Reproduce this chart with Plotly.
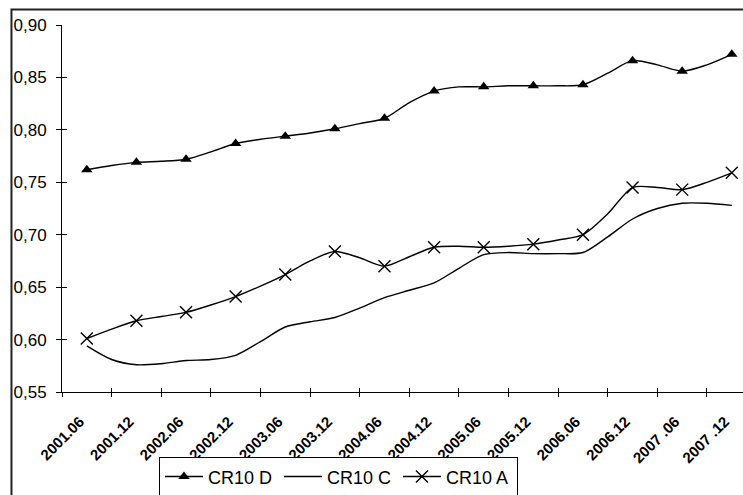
import numpy as np
import plotly.graph_objects as go

# Quarterly observations, 2001.06 .. 2007.12
PERIODS = [f"{y}.{m:02d}" for y in range(2001, 2008) for m in (3, 6, 9, 12)][1:]
CR10_D = [0.762, 0.766, 0.769, 0.770, 0.772, 0.779, 0.787, 0.791, 0.794, 0.797,
          0.801, 0.806, 0.811, 0.826, 0.837, 0.841, 0.841, 0.842, 0.842, 0.842,
          0.843, 0.854, 0.866, 0.862, 0.856, 0.862, 0.872]
CR10_C = [0.594, 0.581, 0.576, 0.577, 0.580, 0.581, 0.585, 0.598, 0.612, 0.617,
          0.621, 0.630, 0.640, 0.647, 0.654, 0.668, 0.681, 0.683, 0.682, 0.682,
          0.683, 0.698, 0.715, 0.725, 0.730, 0.730, 0.728]
CR10_A = [0.601, 0.610, 0.618, 0.622, 0.626, 0.633, 0.641, 0.651, 0.662, 0.675,
          0.684, 0.678, 0.670, 0.679, 0.688, 0.689, 0.688, 0.689, 0.691, 0.695,
          0.700, 0.720, 0.745, 0.745, 0.743, 0.750, 0.759]

# Half-year category labels
TICK_LABELS = ["2001.06", "2001.12", "2002.06", "2002.12", "2003.06", "2003.12",
               "2004.06", "2004.12", "2005.06", "2005.12", "2006.06", "2006.12",
               "2007 .06", "2007 .12"]
Y_TICKS = [0.55, 0.60, 0.65, 0.70, 0.75, 0.80, 0.85, 0.90]
Y_LABELS = ["0,55", "0,60", "0,65", "0,70", "0,75", "0,80", "0,85", "0,90"]

FONT = "Arial, 'Liberation Sans', sans-serif"
INK = "black"

# position in half-year units: quarter i sits at i/2
x_q = np.arange(len(PERIODS)) / 2.0
x_h = x_q[::2]
centers = np.arange(len(TICK_LABELS))
bounds = centers - 0.5
X_RANGE = [-0.5, 13.226]
Y_RANGE = [0.55, 0.90]

fig = go.Figure()

series = [
    ("CR10 D", CR10_D, "triangle-up", 10, 0),
    ("CR10 C", CR10_C, None, 0, 0),
    ("CR10 A", CR10_A, "x-thin-open", 12, 1.4),
]
for name, vals, sym, size, mlw in series:
    vals = np.asarray(vals)
    fig.add_trace(go.Scatter(
        x=x_q, y=vals, mode="lines", showlegend=False, hoverinfo="skip",
        line=dict(color=INK, width=1.4, shape="spline", smoothing=0.8)))
    if sym:
        fig.add_trace(go.Scatter(
            x=x_h, y=vals[::2], mode="markers", showlegend=False,
            marker=dict(symbol=sym, size=size, color=INK,
                        line=dict(color=INK, width=mlw))))
    # legend entry
    fig.add_trace(go.Scatter(
        x=[None], y=[None], name=name,
        mode="lines+markers" if sym else "lines",
        line=dict(color=INK, width=1.4),
        marker=dict(symbol=sym or "circle", size=size, color=INK,
                    line=dict(color=INK, width=mlw))))

# helper traces for the overlay axes (crossing tick marks)
fig.add_trace(go.Scatter(x=[None], y=[None], xaxis="x2", yaxis="y2",
                         showlegend=False, hoverinfo="skip"))
fig.add_trace(go.Scatter(x=[None], y=[None], xaxis="x3", yaxis="y2",
                         showlegend=False, hoverinfo="skip"))

fig.update_layout(
    width=743, height=495,
    margin=dict(l=62, r=0, t=25, b=103, autoexpand=False),
    paper_bgcolor="white", plot_bgcolor="white",
    font=dict(family=FONT, color=INK, size=17),
    # category labels; invisible ticks set their distance below the axis
    xaxis=dict(range=X_RANGE, showgrid=False, zeroline=False,
               showline=True, linecolor=INK, linewidth=1,
               tickmode="array", tickvals=centers, ticktext=TICK_LABELS,
               ticks="outside", ticklen=14, tickcolor="rgba(0,0,0,0)",
               tickangle=-45, ticklabelshift=-7,
               tickfont=dict(family=FONT, size=15, color=INK, weight="bold"),
               automargin=False),
    xaxis2=dict(range=X_RANGE, overlaying="x", anchor="y", side="bottom",
                showgrid=False, zeroline=False, showline=False,
                tickmode="array", tickvals=bounds, ticktext=[""] * len(bounds),
                ticks="outside", ticklen=4, tickcolor=INK, tickwidth=1,
                automargin=False),
    xaxis3=dict(range=X_RANGE, overlaying="x", anchor="y", side="bottom",
                showgrid=False, zeroline=False, showline=False,
                tickmode="array", tickvals=bounds, ticktext=[""] * len(bounds),
                ticks="inside", ticklen=4, tickcolor=INK, tickwidth=1,
                automargin=False),
    yaxis=dict(range=Y_RANGE, showgrid=False, zeroline=False,
               showline=True, linecolor=INK, linewidth=1,
               tickmode="array", tickvals=Y_TICKS, ticktext=Y_LABELS,
               ticks="outside", ticklen=5, tickcolor=INK, tickwidth=1,
               ticklabelstandoff=6,
               tickfont=dict(family=FONT, size=17, color=INK),
               automargin=False),
    yaxis2=dict(range=Y_RANGE, overlaying="y", anchor="x", side="left",
                showgrid=False, zeroline=False, showline=False,
                tickmode="array", tickvals=Y_TICKS, ticktext=[""] * len(Y_TICKS),
                ticks="inside", ticklen=5, tickcolor=INK, tickwidth=1,
                automargin=False),
    legend=dict(orientation="h", x=0.1424, xanchor="left",
                y=-0.178, yanchor="top",
                bordercolor=INK, borderwidth=1, bgcolor="white",
                entrywidth=66, entrywidthmode="pixels", itemwidth=38,
                font=dict(family=FONT, size=18, color=INK)),
    shapes=[dict(type="rect", xref="paper", yref="paper",
                 x0=-0.0742, x1=1.05, y0=-0.35, y1=1.042,
                 line=dict(color="#222222", width=2), layer="below")],
    showlegend=True,
)

fig.write_html("out.html")
